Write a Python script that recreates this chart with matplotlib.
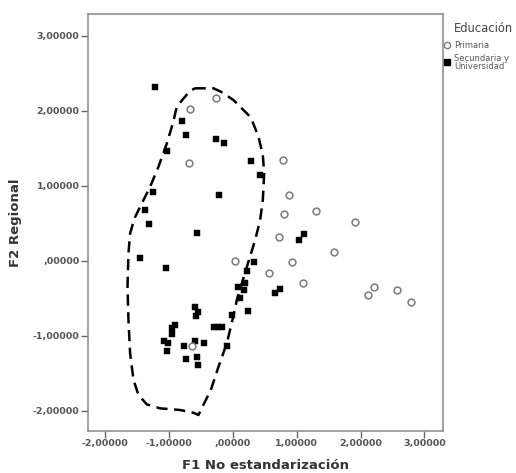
import matplotlib
matplotlib.use("Agg")
import matplotlib.pyplot as plt
from matplotlib.ticker import FuncFormatter

# Data: Primaria (open circles)
prim_x = [-0.668, -0.271, -0.689, 0.793, 0.882, 0.809, 1.310, 1.910, 0.720, 1.592,
          0.037, 0.929, 0.569, 1.096, 2.218, 2.119, 2.568, 2.787, -0.637]
prim_y = [2.027, 2.169, 1.307, 1.342, 0.871, 0.627, 0.667, 0.516, 0.316, 0.116,
          -0.009, -0.018, -0.164, -0.302, -0.347, -0.462, -0.391, -0.547, -1.138]

# Data: Secundaria y Universidad (filled squares)
sec_x = [-1.221, -0.799, -0.731, -0.256, -0.136, -1.028, 0.282, 0.423, -1.253, -0.219,
         -1.373, -1.315, -0.564, 1.112, 1.039, -1.461, -1.039, 0.329, 0.224, 0.078,
         0.188, 0.172, 0.115, 0.736, 0.663, -0.595, -0.538, -0.579, 0.245, -0.005,
         -0.908, -0.945, -0.960, -0.292, -0.177, -0.235, -1.075, -1.018, -1.033, -0.772,
         -0.585, -0.444, -0.094, -0.731, -0.564, -0.548]
sec_y = [2.311, 1.862, 1.680, 1.627, 1.573, 1.467, 1.333, 1.147, 0.920, 0.880,
         0.676, 0.493, 0.364, 0.351, 0.276, 0.031, -0.093, -0.022, -0.133, -0.347,
         -0.293, -0.391, -0.502, -0.378, -0.436, -0.622, -0.689, -0.738, -0.671, -0.720,
         -0.853, -0.902, -0.982, -0.880, -0.880, -0.880, -1.076, -1.093, -1.204, -1.133,
         -1.076, -1.093, -1.138, -1.316, -1.289, -1.387]

# Hand-drawn dashed enclosure (data coordinates)
cont_x = [-0.600, -0.303, -0.188, 0.010, 0.245, 0.308, 0.402, 0.470, 0.491, 0.470,
          0.428, 0.350, 0.245, 0.157, 0.063, 0.000, -0.094, -0.224, -0.344, -0.449,
          -0.538, -0.616, -0.825, -1.138, -1.347, -1.477, -1.555, -1.608, -1.634, -1.649,
          -1.634, -1.608, -1.540, -1.425, -1.294, -1.164, -1.033, -0.939, -0.877, -0.783,
          -0.694, -0.600]
cont_y = [2.298, 2.298, 2.253, 2.142, 1.942, 1.853, 1.653, 1.409, 1.164, 0.809,
          0.542, 0.276, -0.013, -0.258, -0.524, -0.769, -1.102, -1.413, -1.724, -1.902,
          -2.058, -2.027, -1.991, -1.969, -1.916, -1.791, -1.591, -1.236, -0.791, -0.347,
          0.098, 0.364, 0.564, 0.764, 0.987, 1.253, 1.564, 1.831, 2.053, 2.151,
          2.240, 2.298]

ticks = [-2, -1, 0, 1, 2, 3]

def fmt(v, pos):
    s = "%.5f" % v
    s = s.replace(".", ",")
    if s.startswith("0,"):
        s = s[1:]
    if s.startswith("-0,"):
        s = "-" + s[2:]
    if s == "-,00000":
        s = ",00000"
    return s

fig = plt.figure(figsize=(5.16, 4.73), dpi=100)
ax = fig.add_axes([0.170, 0.0888, 0.688, 0.881])

ax.plot(cont_x, cont_y, color="black", lw=1.8, linestyle=(0, (4.5, 2.6)),
        zorder=2)
ax.scatter(sec_x, sec_y, marker="s", s=24, color="black", edgecolors="black",
           linewidths=0.3, zorder=3)
ax.scatter(prim_x, prim_y, marker="o", s=24, facecolors="white",
           edgecolors="#7a7a7a", linewidths=1.1, zorder=4)

ax.set_xlim(-2.272, 3.287)
ax.set_ylim(-2.271, 3.285)
ax.set_xticks(ticks)
ax.set_yticks(ticks)
ax.xaxis.set_major_formatter(FuncFormatter(fmt))
ax.yaxis.set_major_formatter(FuncFormatter(fmt))
ax.tick_params(axis="both", direction="out", length=5, width=1, color="#666666",
               labelsize=6.8, labelcolor="#555555", pad=1)
for lab in ax.get_xticklabels() + ax.get_yticklabels():
    lab.set_fontweight("semibold")
for sp in ax.spines.values():
    sp.set_color("#888888")
    sp.set_linewidth(1.1)

ax.set_xlabel("F1 No estandarización", fontsize=9.5, fontweight="bold",
              color="#333333", labelpad=8)
ax.set_ylabel("F2 Regional", fontsize=9.5, fontweight="bold",
              color="#333333", labelpad=8)

# Legend (outside, top right)
fig.text(454 / 516, 1 - 28 / 473, "Educación", fontsize=8.3, color="#444444",
         va="center", ha="left")
fig.lines.append(plt.Line2D([446.5 / 516], [1 - 45 / 473], marker="o", ms=4.5,
                            mfc="white", mec="#7a7a7a", mew=1.0,
                            transform=fig.transFigure))
fig.text(454 / 516, 1 - 45 / 473, "Primaria", fontsize=6.0, color="#555555",
         va="center", ha="left")
fig.lines.append(plt.Line2D([446.5 / 516], [1 - 62 / 473], marker="s", ms=4.2,
                            mfc="black", mec="black",
                            transform=fig.transFigure))
fig.text(454 / 516, 1 - 62.5 / 473, "Secundaria y\nUniversidad", fontsize=6.0,
         color="#555555", va="center", ha="left", linespacing=0.85)

fig.savefig("out.png", dpi=100)
